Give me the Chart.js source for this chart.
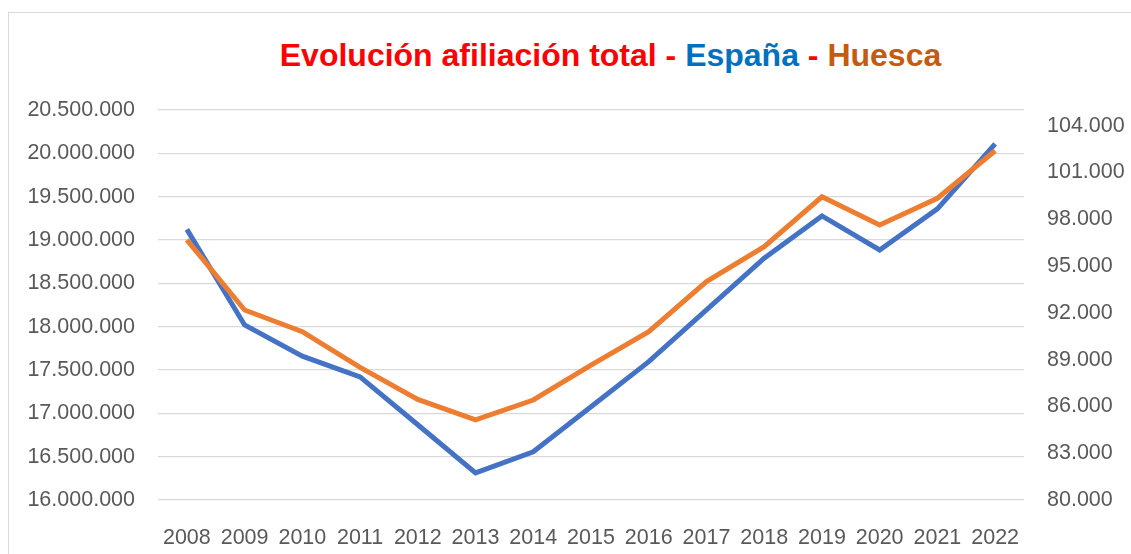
<!DOCTYPE html>
<html>
<head>
<meta charset="utf-8">
<script src="https://cdn.jsdelivr.net/npm/chart.js@4.4.1/dist/chart.umd.min.js"></script>
<style>
    html, body { margin: 0; padding: 0; background: #fff; overflow: hidden; }
    #wrap { position: relative; width: 1131px; height: 554px; }
    #frame { position: absolute; left: 8px; top: 12px; width: 1200px; height: 600px; border: 1px solid #d9d9d9; box-sizing: border-box; }
    #title {
        position: absolute; left: 0; width: 1221px; top: 39px; text-align: center;
        font-family: 'Liberation Sans', Arial, sans-serif; font-weight: bold; font-size: 32px; line-height: 32px;
        white-space: nowrap;
    }
    canvas { position: absolute; left: 0; top: 0; }
</style>
</head>
<body>
<div id="wrap">
    <div id="frame"></div>
    <div id="title"><span style="color:#ff0000">Evolución afiliación total - </span><span style="color:#0070c0">España</span><span style="color:#ff0000"> - </span><span style="color:#c55a11">Huesca</span></div>
    <canvas id="chart" width="1131" height="554"></canvas>
</div>
<script>
const years = ['2008', '2009', '2010', '2011', '2012', '2013', '2014', '2015', '2016', '2017', '2018', '2019', '2020', '2021', '2022'];

// afiliados España (eje izquierdo)
const espana = [19123000, 18020000, 17660000, 17420000, 16868000, 16312000, 16556000, 17077000, 17596000, 18195000, 18790000, 19278000, 18885000, 19360000, 20110000];

// afiliados Huesca (eje derecho)
const huesca = [96670, 92180, 90790, 88500, 86450, 85130, 86410, 88650, 90790, 94000, 96240, 99440, 97630, 99340, 102390];

const rightTicks = [80000, 83000, 86000, 89000, 92000, 95000, 98000, 101000, 104000];

function fmt(v) {
    return String(Math.round(v)).replace(/\B(?=(\d{3})+(?!\d))/g, '.');
}

const tickFont = { family: "'Liberation Sans', Arial, sans-serif", size: 21.5 };

const ctx = document.getElementById('chart').getContext('2d');
const chart = new Chart(ctx, {
    type: 'line',
    data: {
        labels: years,
        datasets: [{
            label: 'España',
            data: espana,
            yAxisID: 'y',
            borderColor: '#4472c4',
            borderWidth: 5,
            pointRadius: 0,
            tension: 0,
            order: 2,
        }, {
            label: 'Huesca',
            data: huesca,
            yAxisID: 'y1',
            borderColor: '#ed7d31',
            borderWidth: 5,
            pointRadius: 0,
            tension: 0,
            order: 1,
        }],
    },
    options: {
        responsive: false,
        animation: false,
        layout: { padding: { top: 110, left: 0, right: 0, bottom: 0 } },
        plugins: {
            legend: { display: false },
            tooltip: { enabled: false },
        },
        scales: {
            x: {
                offset: true,
                grid: { display: false },
                border: { display: false },
                ticks: { color: '#595959', font: tickFont, padding: 17, maxRotation: 0, autoSkip: false },
                afterFit: (s) => { s.height = 54; },
            },
            y: {
                position: 'left',
                min: 16000000,
                max: 20500000,
                grid: { color: '#d9d9d9', lineWidth: 1.3, drawTicks: false },
                border: { display: false },
                ticks: { stepSize: 500000, color: '#595959', font: tickFont, padding: 23, callback: (v) => fmt(v) },
                afterFit: (s) => { s.width = 158; },
            },
            y1: {
                position: 'right',
                min: 80000,
                max: 105000,
                grid: { display: false, drawTicks: false },
                border: { display: false },
                ticks: { color: '#595959', font: tickFont, padding: 23, callback: (v) => fmt(v) },
                afterBuildTicks: (s) => { s.ticks = rightTicks.map((v) => ({ value: v })); },
                afterFit: (s) => { s.width = 107; },
            },
        },
    },
});
</script>
</body>
</html>
